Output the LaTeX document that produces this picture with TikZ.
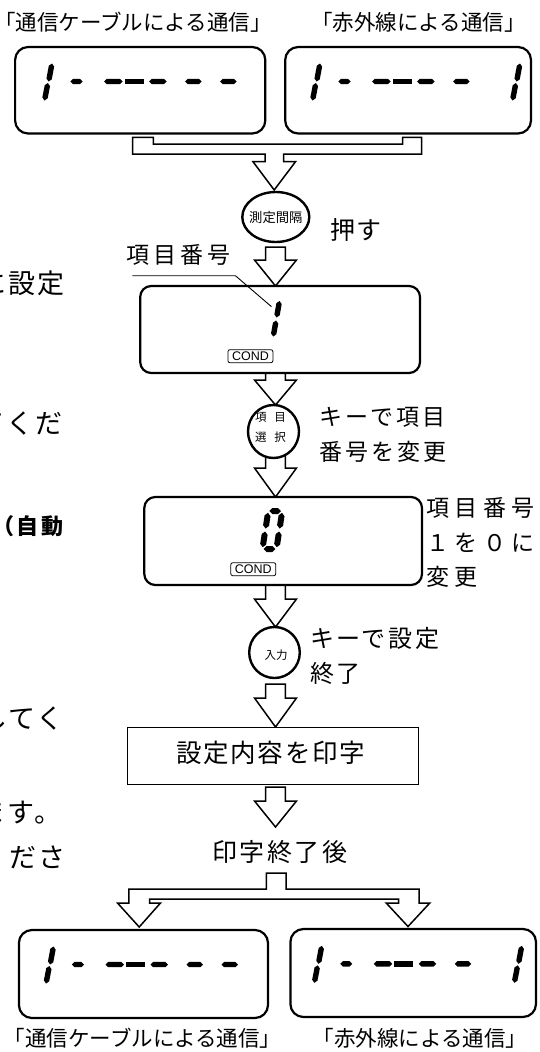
\documentclass[tikz,border=0pt]{standalone}
\usepackage{fontspec}
\newfontfamily\jp{Noto Sans CJK JP}
\newfontfamily\lsans{Liberation Sans}
\usetikzlibrary{calc,shapes.geometric}
\pgfdeclarelayer{bg}
\pgfsetlayers{bg,main}
\newcommand\JT[2]{\jp\fontsize{#1}{#1}\selectfont\addfontfeatures{LetterSpace=#2}}
\newcommand\sseg[5][2.7pt]{%
  \coordinate (s1) at (#2,#3); \coordinate (s2) at (#4,#5);
  \fill (s1) -- ($(s1)!#1!(s2)!#1!90:(s2)$) -- ($(s2)!#1!(s1)!#1!-90:(s1)$) -- (s2)
    -- ($(s2)!#1!(s1)!#1!90:(s1)$) -- ($(s1)!#1!(s2)!#1!-90:(s2)$) -- cycle;}
\newcommand\one[2]{\sseg{#1+7.5}{#2}{#1+4.1}{#2+18}\sseg{#1+3.4}{#2+19.5}{#1}{#2+37}}
\newcommand\dispbase{%
  \one{44.5}{63.5}
  \sseg{70.4}{81.5}{82.5}{81.5}
  \sseg{104}{81.5}{122.5}{81.5}
  \fill (124.5,78.6) rectangle (143.5,84.4);
  \sseg{149}{81.5}{166.5}{81.5}
  \sseg{185}{81.5}{201.5}{81.5}}
\newcommand\barrow[4]{% from anchor, gap, stem length, to anchor
  \draw[blk] let \p1=(#1), \p2=(#4), \p0=(axis) in
   (\x0-9.8pt,\y1-#2) -- (\x0-9.8pt,\y1-#2-#3) -- (\x0-21pt,\y1-#2-#3) -- (\x0,\y2)
   -- (\x0+21pt,\y1-#2-#3) -- (\x0+9.8pt,\y1-#2-#3) -- (\x0+9.8pt,\y1-#2) -- cycle;}
\tikzset{
  disp/.style={draw, line width=2.2pt, rounded corners=13pt, fill=white, inner sep=0pt, outer sep=0pt},
  keyov/.style={draw, ellipse, line width=2.4pt, fill=white, inner sep=0pt, outer sep=0pt},
  blk/.style={draw, line width=1.5pt, fill=white, line join=miter},
  txt/.style={inner sep=0pt, outer sep=0pt},
  cond/.style={draw, line width=0.8pt, rounded corners=2pt, inner sep=0pt, minimum width=45pt, minimum height=13pt, font=\lsans\fontsize{12.5}{12.5}\selectfont},
  printbox/.style={draw, line width=1pt, fill=white, inner sep=0pt, outer sep=0pt},
  lead/.style={draw, line width=0.9pt},
}
\begin{document}
\begin{tikzpicture}[x=1pt,y=-1pt]
\useasboundingbox (0,0) rectangle (539,1052);
\clip (0,0) rectangle (539,1052);
\coordinate (axis) at (275.5,0);

% left cut-off text column
\node[txt, anchor=west, font=\JT{27}{7.4}] (L1) at (-20,283.5) {に設定};
\node[txt, anchor=west, font=\JT{27}{7.4}] (L2) at (-22,424) {てくだ};
\node[txt, anchor=west, font={\JT{22}{11}\bfseries}] (L3) at (-7.5,526) {（自動};
\node[txt, anchor=west, font=\JT{27}{7.4}] (L4) at (-19.5,719) {してく};
\node[txt, anchor=west, font=\JT{27}{7.4}] (L5) at (-21,813) {ます。};
\node[txt, anchor=west, font=\JT{27}{7.4}] (L6) at (-19.5,858) {くださ};

% top labels and displays
\node[txt, font=\JT{21.5}{0}] (lab1) at (133,22.5) {「通信ケーブルによる通信」};
\node[txt, font=\JT{21.5}{0}] (lab2) at (418.4,22.5) {「赤外線による通信」};
\node[disp, minimum width=250.2pt, minimum height=86.5pt] (tl) at (140.2,90.25) {};
\node[disp, minimum width=245.8pt, minimum height=86.5pt] (tr) at (408.1,90.25) {};

% key 1
\node[keyov, minimum width=67pt, minimum height=50pt] (k1) at (275.8,217) {};
\node[txt, font=\JT{13.3}{0}] (k1t) at (k1) {測定間隔};
\node[txt, anchor=west, font=\JT{25}{2}] (push) at (330.5,230) {押す};

% box 2
\node[txt, anchor=west, font=\JT{23}{18}] (num) at (126,255) {項目番号};
\node[disp, rounded corners=11pt, minimum width=279.8pt, minimum height=87pt] (b2) at (280.1,329.5) {};
\node[cond] (c2) at (250.4,356.2) {COND};

% key 2
\node[keyov, minimum width=51pt, minimum height=53pt] (k2) at (273.5,431.5) {};
\node[txt, align=center, font={\jp\fontsize{11.5}{20}\selectfont}] (k2t) at (270.5,427.5) {項\hspace{8pt}目\\選\hspace{8pt}択};
\node[txt, anchor=west, font=\JT{23}{13}] (chg1) at (319.5,417) {キーで項目};
\node[txt, anchor=west, font=\JT{23}{13}] (chg2) at (319.5,452) {番号を変更};

% box 3
\node[disp, rounded corners=11pt, minimum width=277.7pt, minimum height=88pt] (b3) at (283.15,541) {};
\node[cond] (c3) at (253.3,569.2) {COND};
\node[txt, anchor=west, font=\JT{23}{24}] (r1) at (426,508) {項目番号};
\node[txt, anchor=west, font=\JT{23}{24}] (r2) at (426,543) {１を０に};
\node[txt, anchor=west, font=\JT{23}{24}] (r3) at (426,577) {変更};

% key 3
\node[keyov, minimum width=50.6pt, minimum height=51pt] (k3) at (274.5,652.5) {};
\node[txt, font=\JT{11.5}{0}] (k3t) at (276,655) {入力};
\node[txt, anchor=west, font=\JT{24}{11}] (end1) at (310,638) {キーで設定};
\node[txt, anchor=west, font=\JT{24}{11}] (end2) at (310,673) {終了};

% print box
\node[printbox, minimum width=291.6pt, minimum height=57pt] (pb) at (272.8,755.5) {};
\node[txt, anchor=west, font=\JT{25.5}{7}] (pbt) at (176,753) {設定内容を印字};
\node[txt, anchor=west, font=\JT{25}{10}] (after) at (212,852) {印字終了後};
\coordinate (t7) at (275.5,827);

% bottom displays and labels
\node[disp, minimum width=249.1pt, minimum height=88pt] (bl) at (143.45,974) {};
\node[disp, minimum width=245.6pt, minimum height=88pt] (br) at (413.2,973) {};
\node[txt, font=\JT{21.5}{0}] (lab3) at (142.6,1038) {「通信ケーブルによる通信」};
\node[txt, font=\JT{21.5}{0}] (lab4) at (420,1038) {「赤外線による通信」};

% block arrows
\begin{pgfonlayer}{bg}
\draw[blk] (132.7,137.3) -- (153.3,137.3) -- (153.3,144) -- (402.7,144) -- (402.7,137.3)
  -- (421.7,137.3) -- (421.7,154) -- (283.5,154) -- (283.5,161.7) -- (295.5,161.7)
  -- (274.2,190) -- (253,161.7) -- (265,161.7) -- (265,154) -- (132.7,154) -- cycle;
\barrow{k1.south}{5pt}{13pt}{b2.north}
\barrow{b2.south}{0pt}{7pt}{k2.north}
\barrow{k2.south}{-6pt}{16pt}{b3.north}
\barrow{b3.south}{0pt}{14pt}{k3.north}
\barrow{k3.south}{6pt}{14pt}{pb.north}
\barrow{pb.south}{3pt}{14pt}{t7}
\draw[blk] (266.3,873) -- (286,873) -- (286,889) -- (419.2,889) -- (419.2,903) -- (429.8,903)
  -- (408,926.5) -- (386.2,903) -- (398.6,903) -- (398.6,899) -- (149.5,899) -- (149.5,903)
  -- (160.5,903) -- (139.2,927) -- (117.5,903) -- (128.9,903) -- (128.9,889) -- (266.3,889) -- cycle;
\end{pgfonlayer}

% leader line
\coordinate (ld1) at (132.3,275.7);
\coordinate (ld2) at (235.4,275.7);
\coordinate (ld3) at (271.5,306.7);
\draw[lead] (ld1) -- (ld2) -- (ld3);

% segment digits
\dispbase \sseg{220}{81.5}{236.5}{81.5}
\begin{scope}[shift={(268,0)}] \dispbase \one{244.5}{63.5} \end{scope}
\begin{scope}[shift={(1.5,883)}] \dispbase \sseg{220}{81.5}{236.5}{81.5} \end{scope}
\begin{scope}[shift={(269.8,882.3)}] \dispbase \one{244.5}{63.5} \end{scope}
% digit 1 in box 2
\sseg{279.5}{301}{276.6}{317.5}
\sseg{276.1}{320.5}{273.2}{336.5}
% digit 0 in box 3
\sseg[3pt]{269.4}{511}{281}{511}
\sseg[3pt]{263.7}{549}{275.3}{549}
\sseg[3pt]{268}{512.8}{265.6}{528.5}
\sseg[3pt]{265.1}{531.5}{262.7}{547.2}
\sseg[3pt]{282}{512.8}{279.6}{528.5}
\sseg[3pt]{279.1}{531.5}{276.7}{547.2}
\end{tikzpicture}
\end{document}
